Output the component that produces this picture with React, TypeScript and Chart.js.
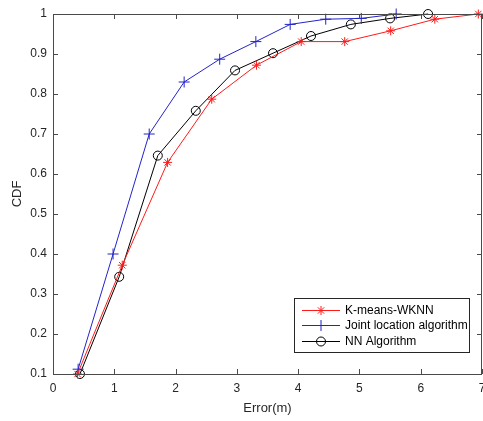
import React, { useEffect, useRef } from "react";
import { Chart, registerables } from "chart.js";

Chart.register(...registerables);

const kmeansX = [0.4, 1.13, 1.87, 2.59, 3.32, 4.05, 4.76, 5.51, 6.23, 6.94];
const kmeansY = [0.1, 0.372, 0.629, 0.787, 0.872, 0.931, 0.931, 0.958, 0.987, 1.0];

const jointX = [0.41, 0.98, 1.57, 2.14, 2.72, 3.31, 3.87, 4.45, 5.03, 5.6];
const jointY = [0.112, 0.4, 0.7, 0.83, 0.887, 0.931, 0.974, 0.987, 0.989, 1.0];

const nnX = [0.44, 1.08, 1.71, 2.33, 2.97, 3.59, 4.21, 4.86, 5.5, 6.12];
const nnY = [0.1, 0.343, 0.646, 0.758, 0.859, 0.902, 0.945, 0.974, 0.989, 1.0];

const seriesNames = ["K-means-WKNN", "Joint location algorithm", "NN Algorithm"];
const xTicks = [0, 1, 2, 3, 4, 5, 6, 7];
const yTicks = [0.1, 0.2, 0.3, 0.4, 0.5, 0.6, 0.7, 0.8, 0.9, 1];

const FONT = "'Liberation Sans', Arial, sans-serif";
const AXIS_COLOR = "#4a4a4a";
const TEXT_COLOR = "#262626";

const toPoints = (xs: number[], ys: number[]) => xs.map((x, i) => ({ x, y: ys[i] }));

function drawMarker(ctx: CanvasRenderingContext2D, style: string, x: number, y: number, r: number, color: string) {
  ctx.save();
  ctx.strokeStyle = color;
  ctx.lineWidth = 1;
  ctx.beginPath();
  if (style === "circle") {
    ctx.arc(x, y, r, 0, Math.PI * 2);
  } else if (style === "cross") {
    ctx.moveTo(x - r, y);
    ctx.lineTo(x + r, y);
    ctx.moveTo(x, y - r);
    ctx.lineTo(x, y + r);
  } else {
    ctx.moveTo(x - r, y);
    ctx.lineTo(x + r, y);
    ctx.moveTo(x, y - r);
    ctx.lineTo(x, y + r);
    const d = r * 0.707;
    ctx.moveTo(x - d, y - d);
    ctx.lineTo(x + d, y + d);
    ctx.moveTo(x - d, y + d);
    ctx.lineTo(x + d, y - d);
  }
  ctx.stroke();
  ctx.restore();
}

const boxPlugin = {
  id: "matlabBox",
  afterDatasetsDraw(chart: any) {
    const { ctx, chartArea } = chart;
    const { left, right, top, bottom } = chartArea;
    const xs = chart.scales.x;
    const ys = chart.scales.y;
    ctx.save();
    ctx.strokeStyle = AXIS_COLOR;
    ctx.lineWidth = 1;
    ctx.beginPath();
    ctx.rect(Math.round(left) + 0.5, Math.round(top) + 0.5, Math.round(right - left) - 1, Math.round(bottom - top));
    ctx.stroke();
    const tl = 5;
    ctx.beginPath();
    xTicks.forEach((v) => {
      const px = Math.round(xs.getPixelForValue(v)) + 0.5;
      ctx.moveTo(px, bottom);
      ctx.lineTo(px, bottom - tl);
      ctx.moveTo(px, top);
      ctx.lineTo(px, top + tl);
    });
    yTicks.forEach((v) => {
      const py = Math.round(ys.getPixelForValue(v)) + 0.5;
      ctx.moveTo(left, py);
      ctx.lineTo(left + tl, py);
      ctx.moveTo(right, py);
      ctx.lineTo(right - tl, py);
    });
    ctx.stroke();

    // x tick labels
    ctx.fillStyle = TEXT_COLOR;
    ctx.font = `12px ${FONT}`;
    ctx.textAlign = "center";
    ctx.textBaseline = "middle";
    xTicks.forEach((v) => {
      ctx.fillText(String(v), xs.getPixelForValue(v), bottom + 15);
    });

    // legend
    const lx = 294, ly = 298, lw = 175, lh = 54;
    ctx.fillStyle = "#ffffff";
    ctx.fillRect(lx, ly, lw, lh);
    ctx.strokeStyle = "#262626";
    ctx.strokeRect(lx + 0.5, ly + 0.5, lw, lh);
    const rows = [310, 325, 341];
    chart.data.datasets.forEach((ds: any, i: number) => {
      const y = rows[i];
      ctx.strokeStyle = ds.borderColor;
      ctx.lineWidth = 1;
      ctx.beginPath();
      ctx.moveTo(302, y + 0.5);
      ctx.lineTo(340, y + 0.5);
      ctx.stroke();
      drawMarker(ctx, ds.pointStyle, 321, y + 0.5, ds.pointRadius, ds.borderColor);
      ctx.fillStyle = "#000000";
      ctx.font = `12px ${FONT}`;
      ctx.textBaseline = "middle";
      ctx.textAlign = "left";
      ctx.fillText(ds.label, 345, y + 1);
    });
    ctx.restore();
  },
};

export default function App() {
  const ref = useRef<HTMLCanvasElement | null>(null);
  useEffect(() => {
    if (!ref.current) return;
    const mk = (label: string, xs: number[], ys: number[], color: string, style: string, r: number) => ({
      label,
      data: toPoints(xs, ys),
      showLine: true,
      borderColor: color,
      backgroundColor: "rgba(0,0,0,0)",
      borderWidth: 1,
      pointStyle: style,
      pointRadius: r,
      pointBorderWidth: 1,
      pointBorderColor: color,
      clip: false,
    });
    const chart = new Chart(ref.current, {
      type: "scatter",
      data: {
        datasets: [
          mk(seriesNames[0], kmeansX, kmeansY, "#ff1a1a", "star", 4.5),
          mk(seriesNames[1], jointX, jointY, "#2323c8", "cross", 5.5),
          mk(seriesNames[2], nnX, nnY, "#000000", "circle", 4.5),
        ],
      },
      options: {
        animation: false,
        responsive: false,
        maintainAspectRatio: false,
        layout: { autoPadding: false, padding: { top: 14, right: 1, left: 0, bottom: 0 } },
        plugins: { legend: { display: false }, tooltip: { enabled: false } },
        scales: {
          x: {
            type: "linear",
            min: 0,
            max: 7,
            afterBuildTicks: (s: any) => {
              s.ticks = xTicks.map((v) => ({ value: v }));
            },
            afterFit: (s: any) => {
              s.height = 47;
            },
            grid: { display: false, drawTicks: false },
            border: { display: false },
            ticks: { display: false },
            title: {
              display: true,
              text: "Error(m)",
              color: TEXT_COLOR,
              font: { family: FONT, size: 13 },
              padding: { top: 0, bottom: 5 },
            },
          },
          y: {
            type: "linear",
            min: 0.1,
            max: 1,
            afterBuildTicks: (s: any) => {
              s.ticks = yTicks.map((v) => ({ value: v }));
            },
            afterFit: (s: any) => {
              s.width = 53;
            },
            grid: { display: false, drawTicks: false },
            border: { display: false },
            ticks: {
              color: TEXT_COLOR,
              font: { family: FONT, size: 12 },
              padding: 6,
              callback: (v: any) => String(Math.round(Number(v) * 10) / 10),
            },
            title: {
              display: true,
              text: "CDF",
              color: TEXT_COLOR,
              font: { family: FONT, size: 13 },
              padding: { top: 10, bottom: 0 },
            },
          },
        },
      },
      plugins: [boxPlugin],
    } as any);
    return () => chart.destroy();
  }, []);
  return (
    <div style={{ position: "fixed", left: 0, top: 0, width: 483, height: 421, background: "#fff" }}>
      <canvas ref={ref} width={483} height={421} style={{ width: 483, height: 421 }} />
    </div>
  );
}
